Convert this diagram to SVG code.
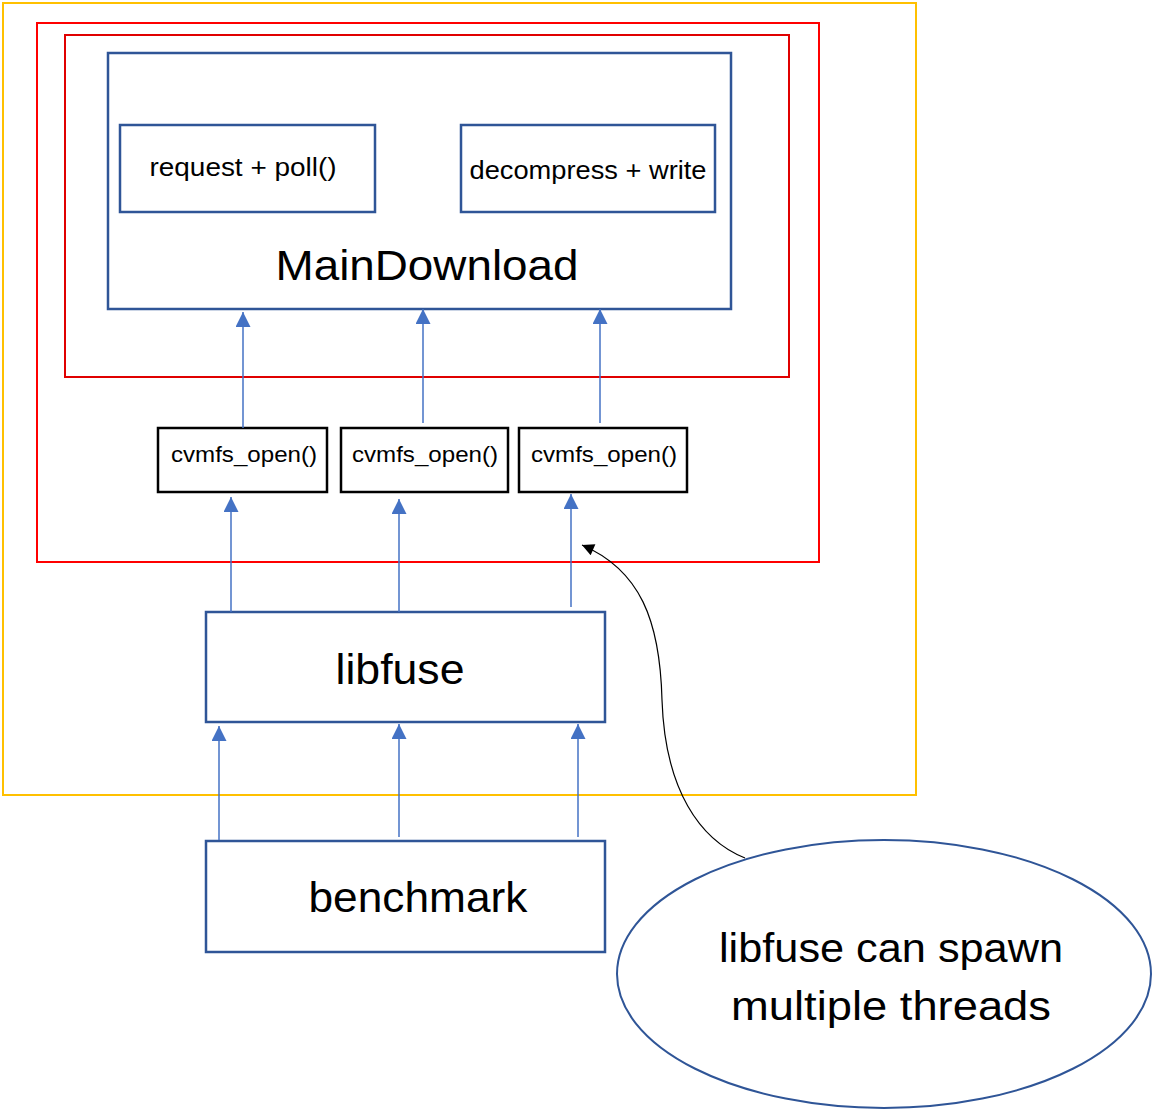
<svg xmlns="http://www.w3.org/2000/svg" width="1153" height="1110" viewBox="0 0 1153 1110">
<defs>
<marker id="ah" viewBox="0 0 10 10" refX="10" refY="5" markerWidth="15" markerHeight="15" markerUnits="userSpaceOnUse" orient="auto">
<path d="M0,0 L10,5 L0,10 z" fill="#4472C4"/>
</marker>
<marker id="ahk" viewBox="0 0 10 10" refX="10" refY="5" markerWidth="14" markerHeight="12" markerUnits="userSpaceOnUse" orient="auto">
<path d="M0,0 L10,5 L0,10 z" fill="#000"/>
</marker>
<style>
.t{font-family:"Liberation Sans",Arial,sans-serif;fill:#000;text-anchor:middle}
.bx{fill:none;stroke:#2F5597;stroke-width:2.5}
.bk{fill:none;stroke:#000;stroke-width:2.5}
.ar{stroke:#4472C4;stroke-width:1.5;fill:none;marker-end:url(#ah)}
</style>
</defs>
<rect width="1153" height="1110" fill="#fff"/>
<g id="outer-yellow"><rect x="3" y="3" width="913" height="792" fill="none" stroke="#FFC000" stroke-width="2"/></g>
<g id="outer-red"><rect x="37" y="23" width="782" height="539" fill="none" stroke="#FF0000" stroke-width="2"/></g>
<g id="inner-red"><rect x="65" y="35" width="724" height="342" fill="none" stroke="#E00000" stroke-width="2"/></g>
<g id="maindownload"><rect class="bx" x="108" y="53" width="623" height="256"/><text class="t" x="427" y="280" font-size="42" textLength="303" lengthAdjust="spacingAndGlyphs">MainDownload</text></g>
<g id="request-poll"><rect class="bx" x="120" y="125" width="255" height="87"/><text class="t" x="243" y="176" font-size="25" textLength="187" lengthAdjust="spacingAndGlyphs">request + poll()</text></g>
<g id="decompress-write"><rect class="bx" x="461" y="125" width="254" height="87"/><text class="t" x="588" y="179" font-size="25" textLength="237" lengthAdjust="spacingAndGlyphs">decompress + write</text></g>
<g id="cvmfs1"><rect class="bk" x="158" y="428" width="169" height="64"/><text class="t" x="244" y="462" font-size="22" textLength="146" lengthAdjust="spacingAndGlyphs">cvmfs_open()</text></g>
<g id="cvmfs2"><rect class="bk" x="341" y="428" width="167" height="64"/><text class="t" x="425" y="462" font-size="22" textLength="146" lengthAdjust="spacingAndGlyphs">cvmfs_open()</text></g>
<g id="cvmfs3"><rect class="bk" x="519" y="428" width="168" height="64"/><text class="t" x="604" y="462" font-size="22" textLength="146" lengthAdjust="spacingAndGlyphs">cvmfs_open()</text></g>
<g id="libfuse"><rect class="bx" x="206" y="612" width="399" height="110"/><text class="t" x="400" y="684" font-size="42" textLength="129" lengthAdjust="spacingAndGlyphs">libfuse</text></g>
<g id="benchmark"><rect class="bx" x="206" y="841" width="399" height="111"/><text class="t" x="418" y="912" font-size="42" textLength="219" lengthAdjust="spacingAndGlyphs">benchmark</text></g>
<g id="note"><ellipse cx="884" cy="974" rx="267" ry="134" fill="none" stroke="#2F5597" stroke-width="2"/>
<text class="t" x="891" y="962" font-size="40" textLength="344" lengthAdjust="spacingAndGlyphs">libfuse can spawn</text>
<text class="t" x="891" y="1020" font-size="40" textLength="320" lengthAdjust="spacingAndGlyphs">multiple threads</text></g>
<g id="connectors">
<line class="ar" x1="243" y1="428" x2="243" y2="312"/>
<line class="ar" x1="423" y1="423" x2="423" y2="309"/>
<line class="ar" x1="600" y1="423" x2="600" y2="309"/>
<line class="ar" x1="231" y1="612" x2="231" y2="497"/>
<line class="ar" x1="399" y1="612" x2="399" y2="499"/>
<line class="ar" x1="571" y1="607" x2="571" y2="494"/>
<line class="ar" x1="219" y1="840" x2="219" y2="726"/>
<line class="ar" x1="399" y1="837" x2="399" y2="724"/>
<line class="ar" x1="578" y1="837" x2="578" y2="724"/>
<path d="M745,858 C700,840 665,790 662,700 C660,620 640,570 582,545" fill="none" stroke="#000" stroke-width="1.2" marker-end="url(#ahk)"/>
</g>
</svg>
